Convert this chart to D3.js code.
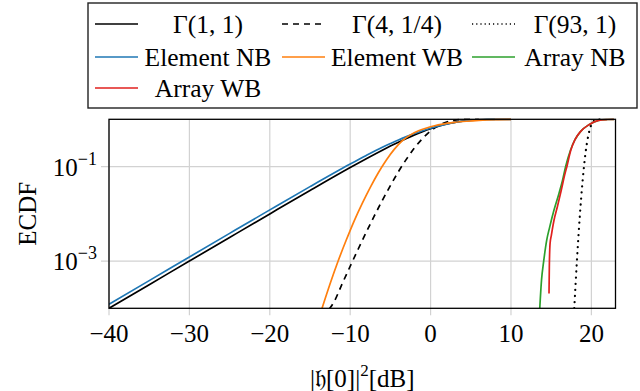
<!DOCTYPE html>
<html>
<head>
<meta charset="utf-8">
<script src="https://cdn.jsdelivr.net/npm/d3@7"></script>
<style>
  html, body { margin: 0; padding: 0; background: #fff; }
  svg { display: block; }
  text { font-family: "Liberation Serif", "Times New Roman", serif; fill: #000; }
</style>
</head>
<body>
<svg id="chart" width="640" height="391"></svg>
<script>
// ---------------- data ----------------
const xTicks = [-40, -30, -20, -10, 0, 10, 20];
const yTicks = [1e-1, 1e-3];
const yTickExp = ["−1", "−3"];

const gamma11X = [-40, -35, -30, -25, -20, -15, -10, -8, -6, -5, -4, -3, -2, -1, 0, 1, 2, 3, 4, 5, 6, 7, 8, 10];
const gamma11Y = [0.0001, 0.000316, 0.0009995, 0.003157, 0.00995, 0.03113, 0.0952, 0.1466, 0.2222, 0.2711, 0.3284, 0.3942, 0.4679, 0.5481, 0.6321, 0.716, 0.795, 0.864, 0.919, 0.9577, 0.9813, 0.9933, 0.9982, 0.99995];

const gamma4X = [-12.6, -12, -11, -10, -9, -8, -7, -6, -5, -4, -3, -2, -1, 0, 1, 2, 3, 4, 5, 6];
const gamma4Y = [0.000097, 0.000138, 0.00033, 0.000776, 0.0018, 0.00408, 0.009, 0.0193, 0.0395, 0.0779, 0.1437, 0.248, 0.392, 0.5665, 0.740, 0.877, 0.957, 0.990, 0.9986, 0.99993];

const gamma93X = [17.87, 18.2, 18.58, 18.91, 19.08, 19.28, 19.47, 19.67, 20.04, 20.23, 20.68, 20.99, 21.5];
const gamma93Y = [0.0001, 0.001, 0.01, 0.05, 0.1, 0.2, 0.33, 0.5, 0.8, 0.9, 0.99, 0.999, 0.99998];

const elemNBX = [-40, -35, -30, -25, -20, -15, -10, -8, -6, -5, -4, -3, -2, -1, 0, 1, 2, 3, 4, 5, 6, 7, 8];
const elemNBY = [0.000122, 0.000385, 0.00122, 0.00385, 0.0121, 0.0376, 0.113, 0.172, 0.256, 0.307, 0.366, 0.43, 0.5, 0.572, 0.645, 0.72, 0.79, 0.855, 0.91, 0.95, 0.975, 0.99, 0.996];

const elemWBX = [-13.5, -12.5, -11.5, -10.5, -9.5, -8.5, -7.5, -6.5, -5.5, -4.5, -3.5, -2.5, -1.5, -0.5, 0.5, 1.5, 3.0, 4.5, 6.0, 8.0, 10.0];
const elemWBY = [0.0001, 0.00033, 0.001, 0.00275, 0.0071, 0.0166, 0.0363, 0.074, 0.138, 0.234, 0.355, 0.468, 0.57, 0.655, 0.73, 0.79, 0.86, 0.91, 0.95, 0.985, 0.998];

const arrNBX = [13.58, 13.8, 14.07, 14.45, 14.82, 15.35, 15.97, 16.4, 16.8, 17.42, 17.96, 18.67, 19.7, 20.9, 22.0, 22.8];
const arrNBY = [0.0001, 0.0004, 0.001, 0.0028, 0.0053, 0.012, 0.027, 0.05, 0.1, 0.226, 0.37, 0.556, 0.77, 0.95, 0.99, 0.999];

const arrWBX = [14.73, 14.77, 14.86, 15.02, 15.35, 15.77, 16.26, 16.68, 17.0, 17.42, 17.96, 18.67, 19.7, 20.9, 22.0, 22.8];
const arrWBY = [0.000205, 0.000745, 0.00234, 0.0035, 0.0073, 0.0141, 0.0319, 0.0666, 0.108, 0.215, 0.37, 0.556, 0.77, 0.95, 0.99, 0.999];

const seriesNames = ["Γ(1, 1)", "Γ(4, 1/4)", "Γ(93, 1)", "Element NB", "Element WB", "Array NB", "Array WB"];

// ---------------- layout / styles ----------------
const M = { left: 109, right: 615.5, top: 119.3, bottom: 308.3 };
const svg = d3.select("#chart");
const x = d3.scaleLinear().domain([-40, 23]).range([M.left, M.right]);
const y = d3.scaleLog().domain([1e-4, 1]).range([M.bottom, M.top]);

const styles = [
  { color: "#000", width: 1.7, dash: null },
  { color: "#000", width: 1.7, dash: "6,5" },
  { color: "#000", width: 2.2, dash: "0.1,6", cap: "round" },
  { color: "#1f77b4", width: 1.7, dash: null },
  { color: "#ff7f0e", width: 1.7, dash: null },
  { color: "#2ca02c", width: 1.7, dash: null },
  { color: "#e0201e", width: 1.7, dash: null }
];
const series = [
  [gamma11X, gamma11Y], [gamma4X, gamma4Y], [gamma93X, gamma93Y],
  [elemNBX, elemNBY], [elemWBX, elemWBY], [arrNBX, arrNBY], [arrWBX, arrWBY]
];

// grid
const gridColor = "#d2d2d2";
svg.append("g").selectAll("line.vg").data(xTicks).join("line")
  .attr("x1", d => x(d)).attr("x2", d => x(d))
  .attr("y1", M.top).attr("y2", M.bottom + 7)
  .attr("stroke", gridColor).attr("stroke-width", 1.2);
svg.append("g").selectAll("line.hg").data(yTicks).join("line")
  .attr("x1", M.left - 8).attr("x2", M.right)
  .attr("y1", d => y(d)).attr("y2", d => y(d))
  .attr("stroke", gridColor).attr("stroke-width", 1.2);

// clip
svg.append("defs").append("clipPath").attr("id", "clip")
  .append("rect").attr("x", M.left).attr("y", M.top - 1)
  .attr("width", M.right - M.left).attr("height", M.bottom - M.top + 1);

const line = d3.line().x(d => x(d[0])).y(d => y(d[1])).curve(d3.curveMonotoneX);
const gCurves = svg.append("g").attr("clip-path", "url(#clip)");
series.forEach((s, i) => {
  const pts = s[0].map((v, k) => [v, s[1][k]]);
  const st = styles[i];
  gCurves.append("path").datum(pts).attr("d", line)
    .attr("fill", "none").attr("stroke", st.color)
    .attr("stroke-width", st.width)
    .attr("stroke-dasharray", st.dash)
    .attr("stroke-linecap", st.cap || "butt")
    .attr("stroke-linejoin", "round");
});

// frame
svg.append("rect").attr("x", M.left).attr("y", M.top)
  .attr("width", M.right - M.left).attr("height", M.bottom - M.top)
  .attr("fill", "none").attr("stroke", "#000").attr("stroke-width", 1.3);

// x tick labels
svg.append("g").selectAll("text").data(xTicks).join("text")
  .attr("x", d => x(d)).attr("y", 342)
  .attr("text-anchor", "middle").attr("font-size", 25)
  .text(d => d < 0 ? "−" + Math.abs(d) : String(d));

// y tick labels
const yl = svg.append("g").selectAll("text").data(yTicks).join("text")
  .attr("x", 97).attr("y", d => y(d) + 9)
  .attr("text-anchor", "end").attr("font-size", 25);
yl.append("tspan").text("10");
yl.append("tspan").attr("font-size", 18).attr("dy", -11).text((d, i) => yTickExp[i]);

// axis labels
svg.append("text").attr("transform", `translate(36,${(M.top + M.bottom) / 2}) rotate(-90)`)
  .attr("text-anchor", "middle").attr("font-size", 25).text("ECDF");
const xl = svg.append("text").attr("x", (M.left + M.right) / 2).attr("y", 387)
  .attr("text-anchor", "middle").attr("font-size", 25);
xl.append("tspan").text("|𝔥[0]|");
xl.append("tspan").attr("font-size", 17).attr("dy", -11).text("2");
xl.append("tspan").attr("dy", 11).text("[dB]");

// legend
svg.append("rect").attr("x", 88).attr("y", 3).attr("width", 549).attr("height", 105)
  .attr("fill", "#fff").attr("stroke", "#222").attr("stroke-width", 1.4);
const colLine = [95, 282, 472];
const colText = [208, 397, 575];
const rowY = [24, 57, 88];
seriesNames.forEach((name, i) => {
  const r = Math.floor(i / 3), c = i % 3;
  const st = styles[i];
  svg.append("line").attr("x1", colLine[c]).attr("x2", colLine[c] + 43)
    .attr("y1", rowY[r]).attr("y2", rowY[r])
    .attr("stroke", st.color).attr("stroke-width", i === 2 ? 1.4 : st.width)
    .attr("stroke-dasharray", i === 1 ? "6,5" : (i === 2 ? "1.2,3" : null));
  svg.append("text").attr("x", colText[c]).attr("y", rowY[r] + 8.5)
    .attr("text-anchor", "middle").attr("font-size", 25.5).text(name);
});
</script>
</body>
</html>
